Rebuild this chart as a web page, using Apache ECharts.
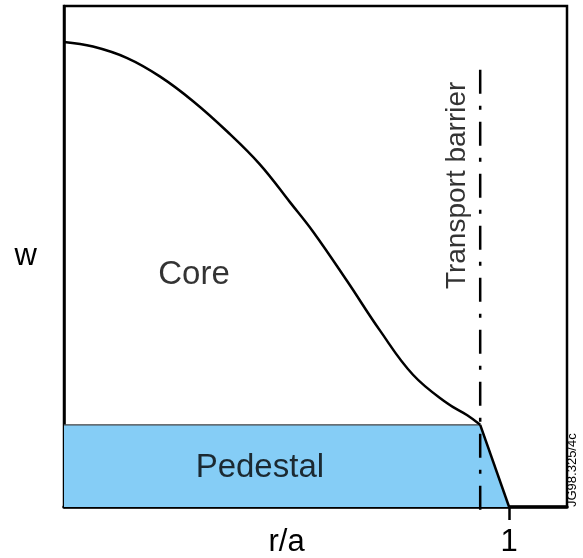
<!DOCTYPE html>
<html>
<head>
<meta charset="utf-8">
<script src="https://cdn.jsdelivr.net/npm/echarts@6/dist/echarts.min.js"></script>
<style>html,body{margin:0;padding:0;background:#fff}#c{width:583px;height:558px}</style>
</head>
<body>
<div id="c"></div>
<script>
// Core profile w(r/a)
var coreR = [0, 0.065, 0.142, 0.216, 0.290, 0.366, 0.440, 0.508, 0.560, 0.636, 0.710, 0.784, 0.861, 0.906, 0.935];
var coreW = [0.928, 0.919, 0.896, 0.859, 0.810, 0.750, 0.684, 0.608, 0.549, 0.451, 0.352, 0.264, 0.207, 0.183, 0.164];
// Pedestal outline
var pedR = [0, 0.935, 1.0];
var pedW = [0.164, 0.164, 0];
// Transport barrier position and its line extent
var barrierR = 0.935;
var barrierW = [0.873, -0.026];
// Axis tick / label values
var xTickValues = [1];
var xLabelValues = [0.5, 1];
var xLabelTexts = ['r/a', '1'];
// Annotations
var annoText = ['Core', 'Pedestal', 'Transport barrier'];
var annoR = [0.292, 0.44, 0.883];
var annoW = [0.463, 0.078, 0.642];
var annoRotate = [0, 0, 90];
var annoSize = [33, 33, 28];

var FONT = 'Liberation Sans, Arial, sans-serif';
var TXT = '#000';

function zip(a, b) { return a.map(function (v, i) { return [v, b[i]]; }); }

var chart = echarts.init(document.getElementById('c'), null, { renderer: 'canvas' });
chart.setOption({
  animation: false,
  backgroundColor: '#fff',
  grid: { left: 64, top: 6, right: 16, bottom: 49, show: true, borderColor: '#000', borderWidth: 2.5, containLabel: false },
  xAxis: {
    type: 'value', min: 0, max: 1.13,
    axisLine: { show: true, onZero: false, lineStyle: { color: '#000', width: 3.5 } },
    axisTick: { show: true, customValues: xTickValues, length: 13, lineStyle: { color: '#000', width: 2.5 } },
    axisLabel: {
      show: true, customValues: xLabelValues, margin: 20,
      fontSize: 31, color: TXT, fontFamily: FONT,
      formatter: function (v) { var i = xLabelValues.indexOf(v); return i >= 0 ? xLabelTexts[i] : ''; }
    },
    splitLine: { show: false }
  },
  yAxis: {
    type: 'value', min: 0, max: 1,
    name: 'w', nameLocation: 'middle', nameRotate: 0, nameGap: 27,
    nameTextStyle: { fontSize: 31, color: TXT, fontFamily: FONT },
    axisLine: { show: true, lineStyle: { color: '#000', width: 2.5 } },
    axisTick: { show: false }, axisLabel: { show: false }, splitLine: { show: false }
  },
  series: [
    {
      name: 'Pedestal', type: 'line', data: zip(pedR, pedW), symbol: 'none', z: 1,
      lineStyle: { color: '#444', width: 1.2 },
      areaStyle: { color: '#85CDF6', opacity: 1 }
    },
    {
      name: 'Edge', type: 'line', data: zip(pedR.slice(1), pedW.slice(1)), symbol: 'none', z: 3,
      lineStyle: { color: '#000', width: 2.5 }
    },
    {
      name: 'Core', type: 'line', data: zip(coreR, coreW), symbol: 'none', smooth: 0.4, z: 3,
      lineStyle: { color: '#000', width: 2.5 }
    },
    {
      name: 'Barrier', type: 'line', data: barrierW.map(function (w) { return [barrierR, w]; }),
      symbol: 'none', clip: false, z: 2,
      lineStyle: { color: '#000', width: 2.5, type: [24, 12, 4, 12] }
    },
    {
      name: 'Labels', type: 'scatter', symbolSize: 0, z: 5,
      data: annoText.map(function (t, i) {
        return { value: [annoR[i], annoW[i]], name: t,
          label: { show: true, position: 'inside', formatter: t, rotate: annoRotate[i],
            fontSize: annoSize[i], color: TXT, fontFamily: FONT, textBorderWidth: 0 } };
      })
    }
  ],
  graphic: [
    { type: 'text', x: 566, y: 507, rotation: Math.PI / 2,
      style: { text: 'JG98.325/4c', fill: '#000', font: '13px ' + FONT } }
  ]
});
</script>
</body>
</html>
